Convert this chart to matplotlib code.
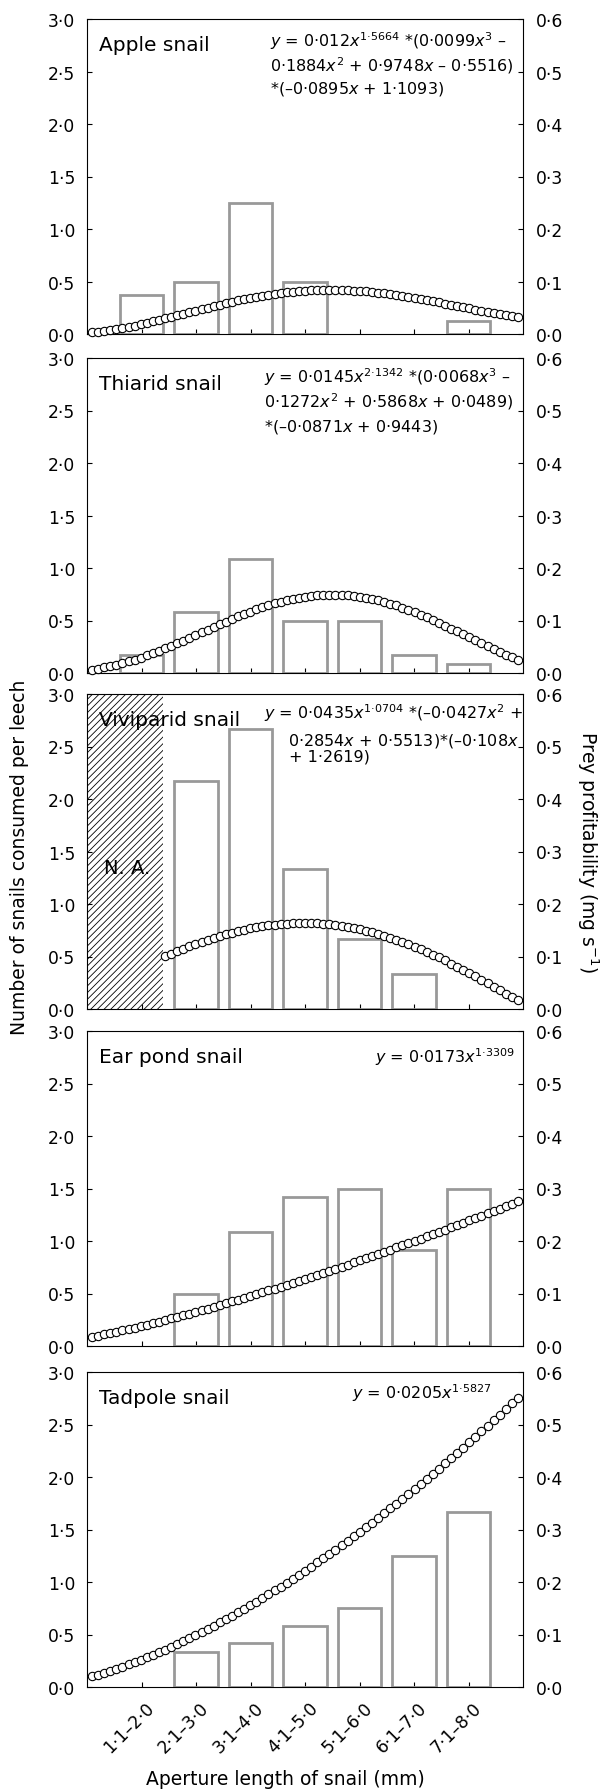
import numpy as np
import matplotlib

matplotlib.use("Agg")
import matplotlib.pyplot as plt
from matplotlib.ticker import FuncFormatter, MultipleLocator
from matplotlib.transforms import ScaledTranslation

# size classes (aperture length, mm)
categories = ["1·1–2·0", "2·1–3·0", "3·1–4·0", "4·1–5·0", "5·1–6·0", "6·1–7·0", "7·1–8·0"]
snails = ["Apple snail", "Thiarid snail", "Viviparid snail", "Ear pond snail", "Tadpole snail"]

# number of snails consumed per leech (left axis); nan = not available
apple_consumed = [0.375, 0.5, 1.25, 0.5, 0.0, 0.0, 0.125]
thiarid_consumed = [0.167, 0.583, 1.083, 0.5, 0.5, 0.167, 0.083]
viviparid_consumed = [np.nan, 2.167, 2.667, 1.333, 0.667, 0.333, 0.0]
earpond_consumed = [0.0, 0.5, 1.083, 1.417, 1.5, 0.917, 1.5]
tadpole_consumed = [0.0, 0.333, 0.417, 0.583, 0.75, 1.25, 1.667]

# prey profitability (mg s-1, right axis), one value per 0.1 mm from 1.0 to 8.0
profit_x = np.round(np.arange(10, 81) / 10, 1)
viviparid_x = profit_x[12:]

apple_profit = [
    0.0030, 0.0043, 0.0058, 0.0075, 0.0094, 0.0115, 0.0137, 0.0161, 0.0186, 0.0212,
    0.0239, 0.0267, 0.0296, 0.0325, 0.0355, 0.0385, 0.0415, 0.0445, 0.0475, 0.0504,
    0.0533, 0.0561, 0.0588, 0.0614, 0.0640, 0.0664, 0.0687, 0.0709, 0.0729, 0.0747,
    0.0765, 0.0780, 0.0794, 0.0806, 0.0816, 0.0825, 0.0831, 0.0836, 0.0839, 0.0840,
    0.0840, 0.0837, 0.0833, 0.0827, 0.0820, 0.0811, 0.0800, 0.0788, 0.0774, 0.0759,
    0.0743, 0.0725, 0.0707, 0.0687, 0.0667, 0.0646, 0.0624, 0.0602, 0.0579, 0.0556,
    0.0532, 0.0509, 0.0486, 0.0463, 0.0440, 0.0418, 0.0396, 0.0375, 0.0354, 0.0335, 0.0316,
]
thiarid_profit = [
    0.0064, 0.0083, 0.0105, 0.0129, 0.0156, 0.0187, 0.0220, 0.0255, 0.0293, 0.0334,
    0.0377, 0.0421, 0.0468, 0.0516, 0.0565, 0.0616, 0.0667, 0.0719, 0.0772, 0.0824,
    0.0876, 0.0928, 0.0978, 0.1028, 0.1077, 0.1123, 0.1168, 0.1211, 0.1252, 0.1290,
    0.1326, 0.1358, 0.1387, 0.1414, 0.1436, 0.1455, 0.1471, 0.1483, 0.1490, 0.1494,
    0.1495, 0.1491, 0.1483, 0.1471, 0.1456, 0.1436, 0.1413, 0.1386, 0.1356, 0.1323,
    0.1286, 0.1246, 0.1204, 0.1158, 0.1111, 0.1061, 0.1010, 0.0957, 0.0902, 0.0847,
    0.0791, 0.0734, 0.0677, 0.0620, 0.0564, 0.0509, 0.0455, 0.0402, 0.0351, 0.0302, 0.0255,
]
viviparid_profit = [
    0.1008, 0.1056, 0.1103, 0.1148, 0.1192, 0.1235, 0.1276, 0.1316,
    0.1353, 0.1389, 0.1422, 0.1454, 0.1483, 0.1510, 0.1534, 0.1556, 0.1576, 0.1593,
    0.1608, 0.1619, 0.1628, 0.1635, 0.1639, 0.1639, 0.1638, 0.1633, 0.1625, 0.1615,
    0.1602, 0.1586, 0.1567, 0.1545, 0.1521, 0.1494, 0.1465, 0.1432, 0.1398, 0.1360,
    0.1321, 0.1278, 0.1234, 0.1187, 0.1139, 0.1088, 0.1035, 0.0981, 0.0924, 0.0866,
    0.0807, 0.0746, 0.0684, 0.0621, 0.0557, 0.0493, 0.0427, 0.0361, 0.0295, 0.0229, 0.0163,
]
earpond_profit = [
    0.0173, 0.0196, 0.0221, 0.0245, 0.0271, 0.0297, 0.0323, 0.0351, 0.0378, 0.0407,
    0.0435, 0.0464, 0.0494, 0.0524, 0.0555, 0.0586, 0.0617, 0.0649, 0.0681, 0.0714,
    0.0747, 0.0780, 0.0814, 0.0848, 0.0882, 0.0917, 0.0952, 0.0987, 0.1023, 0.1059,
    0.1095, 0.1131, 0.1168, 0.1205, 0.1243, 0.1281, 0.1319, 0.1357, 0.1395, 0.1434,
    0.1473, 0.1513, 0.1552, 0.1592, 0.1632, 0.1673, 0.1713, 0.1754, 0.1795, 0.1836,
    0.1878, 0.1920, 0.1962, 0.2004, 0.2046, 0.2089, 0.2132, 0.2175, 0.2218, 0.2262,
    0.2306, 0.2350, 0.2394, 0.2438, 0.2483, 0.2527, 0.2572, 0.2617, 0.2663, 0.2708, 0.2754,
]
tadpole_profit = [
    0.0205, 0.0238, 0.0274, 0.0311, 0.0349, 0.0390, 0.0431, 0.0475, 0.0520, 0.0566,
    0.0614, 0.0663, 0.0714, 0.0766, 0.0819, 0.0874, 0.0930, 0.0987, 0.1046, 0.1106,
    0.1167, 0.1229, 0.1292, 0.1357, 0.1422, 0.1489, 0.1557, 0.1626, 0.1696, 0.1767,
    0.1839, 0.1913, 0.1987, 0.2062, 0.2139, 0.2216, 0.2295, 0.2374, 0.2455, 0.2536,
    0.2618, 0.2702, 0.2786, 0.2871, 0.2958, 0.3045, 0.3133, 0.3222, 0.3312, 0.3403,
    0.3494, 0.3587, 0.3680, 0.3775, 0.3870, 0.3966, 0.4063, 0.4161, 0.4260, 0.4359,
    0.4460, 0.4561, 0.4663, 0.4766, 0.4870, 0.4974, 0.5080, 0.5186, 0.5293, 0.5401, 0.5509,
]

# fitted equations, one list of lines per panel
apple_eq = [
    r"$\mathit{y}$ = 0·012$\mathit{x}^{1·5664}$ *(0·0099$\mathit{x}^{3}$ –",
    r"0·1884$\mathit{x}^{2}$ + 0·9748$\mathit{x}$ – 0·5516)",
    r"*(–0·0895$\mathit{x}$ + 1·1093)",
]
thiarid_eq = [
    r"$\mathit{y}$ = 0·0145$\mathit{x}^{2·1342}$ *(0·0068$\mathit{x}^{3}$ –",
    r"0·1272$\mathit{x}^{2}$ + 0·5868$\mathit{x}$ + 0·0489)",
    r"*(–0·0871$\mathit{x}$ + 0·9443)",
]
viviparid_eq = [
    r"$\mathit{y}$ = 0·0435$\mathit{x}^{1·0704}$ *(–0·0427$\mathit{x}^{2}$ +",
    r"0·2854$\mathit{x}$ + 0·5513)*(–0·108$\mathit{x}$",
    r"+ 1·2619)",
]
earpond_eq = [r"$\mathit{y}$ = 0·0173$\mathit{x}^{1·3309}$"]
tadpole_eq = [r"$\mathit{y}$ = 0·0205$\mathit{x}^{1·5827}$"]

consumed = [apple_consumed, thiarid_consumed, viviparid_consumed, earpond_consumed, tadpole_consumed]
profit = [apple_profit, thiarid_profit, viviparid_profit, earpond_profit, tadpole_profit]
profit_xs = [profit_x, profit_x, viviparid_x, profit_x, profit_x]
equations = [apple_eq, thiarid_eq, viviparid_eq, earpond_eq, tadpole_eq]

# layout, in pixels of the 606 x 1790 figure
W, H = 606, 1790
AX_LEFT, AX_WIDTH, AX_HEIGHT = 87, 436, 315
PANEL_TOPS = [20, 359, 695, 1032, 1373]
# equation placement: (x px, [baseline offsets from panel top], align)
EQ_POS = [
    ([270, 270, 270], [27, 51, 73], "left"),
    ([264, 264, 264], [24, 49, 72], "left"),
    ([264, 288, 289], [24, 50, 67], "left"),
    ([515], [31], "right"),
    ([492], [26], "right"),
]

BAR_GREY = "#999999"

plt.rcParams["font.family"] = ["DejaVu Sans"]
plt.rcParams["mathtext.default"] = "regular"
plt.rcParams["hatch.linewidth"] = 0.6

dot_fmt = FuncFormatter(lambda v, _: f"{v:.1f}".replace(".", "·"))

fig = plt.figure(figsize=(W / 100, H / 100), dpi=100)

for i, name in enumerate(snails):
    rect = [AX_LEFT / W, 1 - (PANEL_TOPS[i] + AX_HEIGHT) / H, AX_WIDTH / W, AX_HEIGHT / H]
    ax = fig.add_axes(rect)
    ax.set_xlim(-1, 7)
    ax.set_ylim(0, 3.0)

    idx = np.arange(len(categories))
    vals = np.array(consumed[i], dtype=float)
    keep = np.isfinite(vals) & (vals > 0)
    ax.bar(idx[keep], vals[keep], width=0.8, facecolor="none",
           edgecolor=BAR_GREY, linewidth=2.0, zorder=2)

    if np.isnan(vals).any():
        # size class not available: hatched
        ax.axvspan(-1, 0.4, facecolor="none", edgecolor="black", hatch="/////",
                   linewidth=0, zorder=1)
        ax.text(-0.27, 1.35, "N. A.", fontsize=14, ha="center", va="center")

    ax.text((99 - AX_LEFT) / AX_WIDTH, 1 - 31 / AX_HEIGHT, name, transform=ax.transAxes,
            fontsize=14.5, ha="left", va="baseline")

    xs, offs, align = EQ_POS[i]
    for line, xp, off in zip(equations[i], xs, offs):
        ax.text((xp - AX_LEFT) / AX_WIDTH, 1 - off / AX_HEIGHT, line, transform=ax.transAxes,
                fontsize=11.5, ha=align, va="baseline")

    ax.yaxis.set_major_locator(MultipleLocator(0.5))
    ax.yaxis.set_major_formatter(dot_fmt)
    ax.set_xticks(idx)
    ax.tick_params(axis="both", direction="in", length=3.6, width=0.8, color="black")
    ax.tick_params(axis="y", labelsize=12.3, pad=8.5)
    for sp in ax.spines.values():
        sp.set_linewidth(0.8)
        sp.set_color("black")

    if i == len(snails) - 1:
        ax.set_xticklabels(categories, rotation=45, ha="right", va="top",
                           rotation_mode="anchor", fontsize=12.3)
        ax.tick_params(axis="x", pad=0)
        shift = ScaledTranslation(0.04, -0.11, fig.dpi_scale_trans)
        for lbl in ax.get_xticklabels():
            lbl.set_transform(lbl.get_transform() + shift)
    else:
        ax.set_xticklabels([])

    # profitability curve on its own overlay axes (right scale)
    ax2 = fig.add_axes(rect, label=f"profit{i}")
    ax2.patch.set_visible(False)
    ax2.set_xlim(0.918, 8.082)
    ax2.set_ylim(0, 0.6)
    ax2.xaxis.set_visible(False)
    ax2.yaxis.tick_right()
    ax2.yaxis.set_major_locator(MultipleLocator(0.1))
    ax2.yaxis.set_major_formatter(dot_fmt)
    ax2.tick_params(axis="y", direction="in", length=3.6, width=0.8,
                    labelsize=12.3, pad=9)
    for sp in ax2.spines.values():
        sp.set_visible(False)
    ax2.plot(profit_xs[i], profit[i], "o", ms=6.0, mfc="white", mec="black",
             mew=0.8, clip_on=False, zorder=3)

fig.text(19.5 / W, 1 - 857 / H, "Number of snails consumed per leech", rotation=90,
         ha="center", va="center", fontsize=13.5)
fig.text(588 / W, 1 - 852 / H, r"Prey profitability (mg s$^{-1}$)", rotation=270,
         ha="center", va="center", fontsize=13.5)
fig.text(285 / W, 1 - 1785 / H, "Aperture length of snail (mm)", ha="center",
         va="baseline", fontsize=13.5)

fig.savefig("out.png", dpi=100)
